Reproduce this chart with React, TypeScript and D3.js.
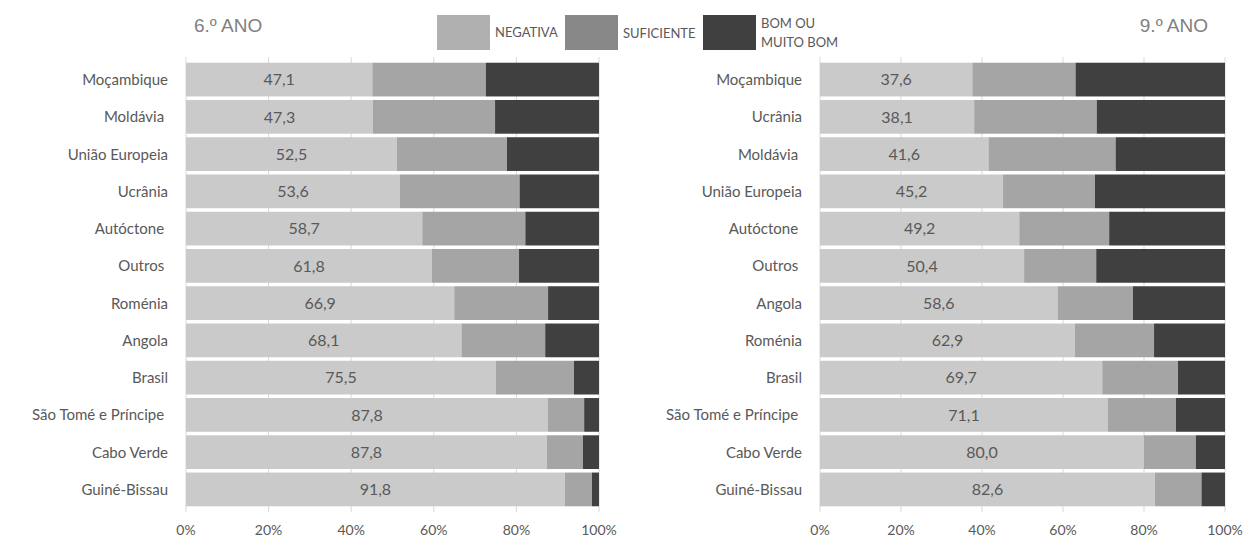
import React from "react";
import * as d3 from "d3";

// ---------- data ----------
const categories6 = [
  "Moçambique", "Moldávia ", "União Europeia", "Ucrânia", "Autóctone ", "Outros ",
  "Roménia", "Angola", "Brasil", "São Tomé e Príncipe ", "Cabo Verde", "Guiné-Bissau",
];
const negativa6 = [47.1, 47.3, 52.5, 53.6, 58.7, 61.8, 66.9, 68.1, 75.5, 87.8, 87.8, 91.8];
const suficiente6 = [28.7, 30.9, 27.4, 30.0, 25.6, 21.9, 23.4, 20.7, 19.0, 8.8, 8.8, 6.6];
const bom6 = [28.6, 26.3, 22.9, 19.9, 18.3, 20.1, 12.7, 13.3, 6.1, 3.6, 3.9, 1.7];

const categories9 = [
  "Moçambique", "Ucrânia", "Moldávia ", "União Europeia", "Autóctone ", "Outros ",
  "Angola", "Roménia", "Brasil", "São Tomé e Príncipe ", "Cabo Verde", "Guiné-Bissau",
];
const negativa9 = [37.6, 38.1, 41.6, 45.2, 49.2, 50.4, 58.6, 62.9, 69.7, 71.1, 80.0, 82.6];
const suficiente9 = [25.5, 30.3, 31.4, 22.7, 22.2, 17.8, 18.6, 19.5, 18.7, 16.8, 12.8, 11.5];
const bom9 = [36.9, 31.7, 27.0, 32.1, 28.6, 31.8, 22.7, 17.5, 11.6, 12.1, 7.2, 5.8];

const xTicks = [0, 20, 40, 60, 80, 100];
const seriesNames = ["NEGATIVA", "SUFICIENTE", "BOM OU MUITO BOM"];
const titles = ["6.º ANO", "9.º ANO"];

// ---------- style ----------
const W = 1244;
const H = 538;
const barColors = ["#cacaca", "#a5a5a5", "#404040"];
const legendColors = ["#b0b0b0", "#888888", "#404040"];
const textColor = "#595959";
const gridColor = "#d9d9d9";
const font = "Lato, 'Open Sans', sans-serif";

type PanelProps = {
  cats: string[];
  neg: number[];
  suf: number[];
  bom: number[];
  x0: number;
  x1: number;
  labelRight: number;
};

function Panel({ cats, neg, suf, bom, x0, x1, labelRight }: PanelProps) {
  const x = d3.scaleLinear().domain([0, 100]).range([x0, x1]);
  const y = d3
    .scaleBand<number>()
    .domain(d3.range(cats.length))
    .range([59.2, 509.8])
    .padding(0.0945);
  const rows = cats.map((c, i) => {
    const total = neg[i] + suf[i] + bom[i];
    const parts = [neg[i], suf[i], bom[i]].map((v) => (v / total) * 100);
    let acc = 0;
    const segs = parts.map((p) => {
      const s = acc;
      acc += p;
      return [s, acc];
    });
    return { c, segs, label: neg[i].toFixed(1).replace(".", ",") };
  });
  const yTop = 57;
  const yBot = 512;
  return (
    <g>
      {xTicks.map((t) => (
        <line key={t} x1={x(t)} x2={x(t)} y1={yTop} y2={yBot} stroke={gridColor} strokeWidth={1} />
      ))}
      {rows.map((r, i) => (
        <g key={i}>
          {r.segs.map((s, k) => (
            <rect
              key={k}
              x={x(s[0])}
              width={x(s[1]) - x(s[0])}
              y={y(i)}
              height={y.bandwidth()}
              fill={barColors[k]}
            />
          ))}
          <text
            x={(x(r.segs[0][0]) + x(r.segs[0][1])) / 2}
            y={(y(i) as number) + y.bandwidth() / 2}
            dy="0.36em"
            textAnchor="middle"
            fontSize={16}
            fill={textColor}
            fontFamily={font}
          >
            {r.label}
          </text>
          <text
            x={labelRight}
            y={(y(i) as number) + y.bandwidth() / 2}
            dy="0.36em"
            textAnchor="end"
            fontSize={15}
            fill={textColor}
            fontFamily={font}
            style={{ whiteSpace: "pre" }}
          >
            {r.c}
          </text>
        </g>
      ))}
      {xTicks.map((t) => (
        <text
          key={"l" + t}
          x={x(t)}
          y={535}
          textAnchor="middle"
          fontSize={14}
          fill={textColor}
          fontFamily={font}
        >
          {t + "%"}
        </text>
      ))}
    </g>
  );
}

export default function App() {
  const legendX = [437, 565, 703];
  return (
    <svg
      width={W}
      height={H}
      style={{ position: "absolute", left: 0, top: 0, background: "#fff" }}
    >
      <rect width={W} height={H} fill="#fff" />
      <text x={194} y={32} fontSize={19} fill="#808080" fontFamily="'Liberation Sans', Arial, sans-serif">
        {titles[0]}
      </text>
      <text x={1208} y={32} textAnchor="end" fontSize={19} fill="#808080" fontFamily="'Liberation Sans', Arial, sans-serif">
        {titles[1]}
      </text>
      {seriesNames.map((s, i) => (
        <g key={s}>
          <rect x={legendX[i]} y={15} width={53} height={35} fill={legendColors[i]} />
          {i < 2 ? (
            <text x={legendX[i] + 58} y={i === 0 ? 37 : 38} fontSize={13} fill={textColor} fontFamily={font}>
              {s}
            </text>
          ) : (
            <text x={legendX[i] + 58} fontSize={13} fill={textColor} fontFamily={font}>
              <tspan x={legendX[i] + 58} y={28}>BOM OU</tspan>
              <tspan x={legendX[i] + 58} y={47}>MUITO BOM</tspan>
            </text>
          )}
        </g>
      ))}
      <Panel cats={categories6} neg={negativa6} suf={suficiente6} bom={bom6} x0={186} x1={599} labelRight={168} />
      <Panel cats={categories9} neg={negativa9} suf={suficiente9} bom={bom9} x0={820} x1={1225} labelRight={802} />
    </svg>
  );
}
